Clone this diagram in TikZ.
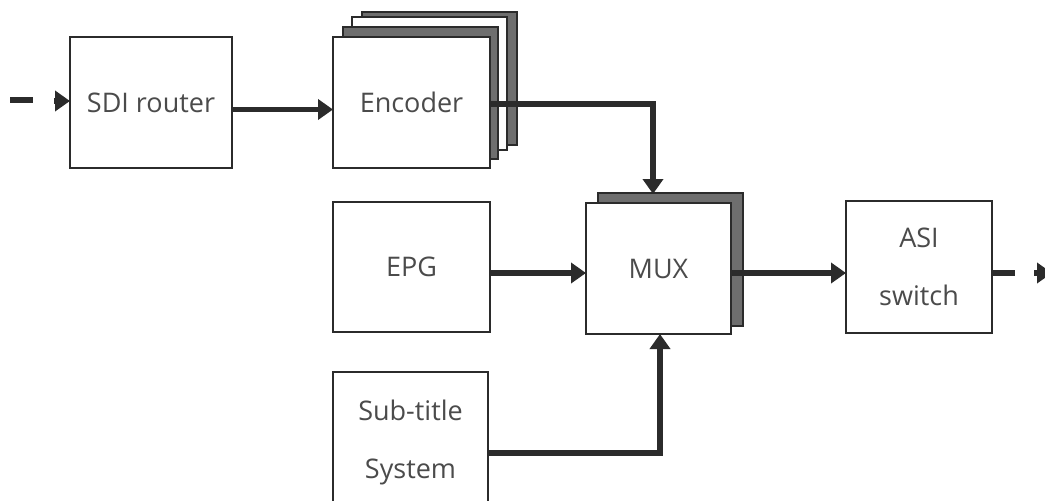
\documentclass[tikz,border=0pt]{standalone}
\usepackage{fontspec}
\setmainfont{Open Sans}
\usetikzlibrary{arrows.meta}
\definecolor{ink}{HTML}{2B2B2B}
\definecolor{shade}{HTML}{6E6E6E}
\tikzset{
  block/.style={draw=ink, line width=2pt, fill=white, inner sep=0pt,
    font={\fontsize{27}{58}\selectfont}, text=ink!85, align=center},
  layer/.style={draw=ink, line width=2pt, inner sep=0pt},
  conn/.style={draw=ink, line width=5.5pt,
    -{Triangle[length=15pt,width=20pt]}, shorten >=-1pt},
  stub/.style={draw=ink, line width=5.5pt}
}
\begin{document}
\begin{tikzpicture}[x=1pt,y=-1pt]
\clip (0,0) rectangle (1045,501);
\useasboundingbox (0,0) rectangle (1045,501);

% encoder stack, drawn back to front
\node[layer, fill=shade, minimum width=155pt, minimum height=133pt] (enc4) at (439.5,78.5) {};
\node[layer, fill=white, minimum width=155pt, minimum height=133pt] (enc3) at (429.5,83.5) {};
\node[layer, fill=shade, minimum width=155pt, minimum height=132pt] (enc2) at (420.5,93) {};
\node[block, minimum width=157pt, minimum height=131pt] (enc) at (411.5,102.5) {Encoder};

% multiplexer with its second unit behind
\node[layer, fill=shade, minimum width=145pt, minimum height=133pt] (muxb) at (670.5,259.5) {};
\node[block, minimum width=145pt, minimum height=131pt] (mux) at (658.5,268.5) {MUX};

\node[block, minimum width=162pt, minimum height=131pt] (sdi) at (151,102.5) {SDI router};
\node[block, minimum width=157pt, minimum height=130pt] (epg) at (411.5,267) {EPG};
\node[block, minimum width=146pt, minimum height=132pt] (asi) at (919,267) {ASI\\switch};
\node[block, minimum width=155pt, minimum height=140pt] (sub) at (410.5,442) {Sub-title\\System};

% incoming signal
\coordinate (inA) at (10,100);
\coordinate (inB) at (33,100);
\coordinate (inC) at (54,101);
\draw[stub] (inA) -- (inB);
\draw[conn] (inC) -- (inC -| sdi.west);

% main chain
\path ([yshift=-7pt]sdi.east) coordinate (s1);
\draw[conn] (s1) -- (s1 -| enc.west);

\coordinate (mtop) at (653,193);
\draw[conn] ([yshift=-1.5pt]enc.east) -| (mtop);

\path ([yshift=-6pt]epg.east) coordinate (e1);
\draw[conn] (e1) -- (e1 -| mux.west);

\path ([yshift=-11pt]sub.east) coordinate (t1);
\draw[conn] (t1) -| ([xshift=1.5pt]mux.south);

\path ([yshift=-4.5pt]mux.east) coordinate (m1);
\draw[conn] (m1) -- (m1 -| asi.west);

% outgoing signal
\path ([yshift=-6pt]asi.east) coordinate (o1);
\coordinate (o2) at (1015,273);
\coordinate (o3) at (1034,273);
\coordinate (o4) at (1051,273);
\draw[stub] (o1) -- (o2);
\draw[conn] (o3) -- (o4);
\end{tikzpicture}
\end{document}
